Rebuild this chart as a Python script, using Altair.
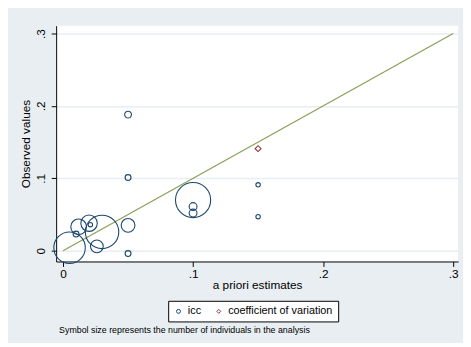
import altair as alt
import pandas as pd

# icc points: a priori estimate, observed value, number of individuals
icc_x = [0.005, 0.012, 0.010, 0.020, 0.021, 0.030, 0.026, 0.050, 0.050, 0.050, 0.050, 0.100, 0.100, 0.100, 0.150, 0.150]
icc_y = [0.004, 0.033, 0.023, 0.038, 0.036, 0.026, 0.006, 0.035, -0.004, 0.101, 0.188, 0.070, 0.061, 0.052, 0.091, 0.047]
icc_n = [256, 64, 9, 70, 5, 289, 42, 49, 9, 9, 12, 320, 16, 16, 5, 5]

# coefficient of variation points
cv_x = [0.150]
cv_y = [0.141]
cv_n = [9]

# reference line y = x
line_x = [0.0, 0.3]

types = ["icc", "coefficient of variation"]

pts = pd.DataFrame({
    "x": icc_x + cv_x,
    "y": icc_y + cv_y,
    "n": icc_n + cv_n,
    "type": ["icc"] * len(icc_x) + ["coefficient of variation"] * len(cv_x),
})
line_df = pd.DataFrame({"x": line_x, "y": line_x})

FONT = "Liberation Sans"
xs = alt.Scale(domain=[-0.0053, 0.3038], nice=False, zero=False)
ys = alt.Scale(domain=[-0.0149, 0.3109], nice=False, zero=False)

lab = "datum.value == 0 ? '0' : replace(format(datum.value, '.1f'), '0.', '.')"
xaxis = alt.Axis(values=[0, 0.1, 0.2, 0.3], labelExpr=lab,
                 title="a priori estimates", grid=False, tickSize=5, tickColor="black",
                 domainColor="black", labelFontSize=12, titleFontSize=12, titleFontWeight="normal",
                 labelFont=FONT, titleFont=FONT, labelColor="black", titleColor="black",
                 labelPadding=2, titlePadding=1)
yaxis = alt.Axis(values=[0, 0.1, 0.2, 0.3], labelExpr=lab,
                 title="Observed values", grid=True, gridColor="#E8EEF1", gridWidth=1.5,
                 tickSize=5, tickColor="black", domainColor="black", labelAngle=270,
                 labelAlign="center", labelBaseline="bottom",
                 labelFontSize=12, titleFontSize=12, titleFontWeight="normal",
                 labelFont=FONT, titleFont=FONT, labelColor="black", titleColor="black",
                 labelPadding=4, titlePadding=2)

line = alt.Chart(line_df).mark_line(color="#8a9f58", strokeWidth=1.2, clip=False).encode(
    x=alt.X("x:Q", scale=xs, axis=xaxis),
    y=alt.Y("y:Q", scale=ys, axis=yaxis),
)

points = alt.Chart(pts).mark_point(filled=False, strokeWidth=1.1, opacity=1, clip=False).encode(
    x=alt.X("x:Q", scale=xs, axis=xaxis),
    y=alt.Y("y:Q", scale=ys, axis=yaxis),
    size=alt.Size("n:Q", scale=alt.Scale(type="linear", domain=[0, 400], range=[0, 1600]), legend=None),
    color=alt.Color("type:N", scale=alt.Scale(domain=types, range=["#1a476f", "#90353b"]),
                    legend=alt.Legend(title=None, orient="none", legendX=114, legendY=280,
                                      direction="horizontal", strokeColor="black", fillColor="white",
                                      padding=5, labelFontSize=11, labelFont=FONT, labelColor="black",
                                      symbolSize=16, symbolStrokeWidth=1, columnPadding=12,
                                      symbolType="circle")),
    shape=alt.Shape("type:N", scale=alt.Scale(domain=types, range=["circle", "diamond"])),
)

caption = alt.Chart(pd.DataFrame({"t": ["Symbol size represents the number of individuals in the analysis"]})).mark_text(
    align="left", baseline="middle", fontSize=9, font=FONT, color="black"
).encode(x=alt.value(3), y=alt.value(310), text="t:N")

chart = alt.layer(line, points, caption).properties(
    width=409, height=240,
    autosize=alt.AutoSizeParams(type="none"),
    padding={"left": 49, "top": 15, "right": 5, "bottom": 80},
    background="#E8EEF1",
).configure_view(fill="white", stroke=None)

chart.save("out.html", embed_options={"renderer": "svg", "actions": False})
